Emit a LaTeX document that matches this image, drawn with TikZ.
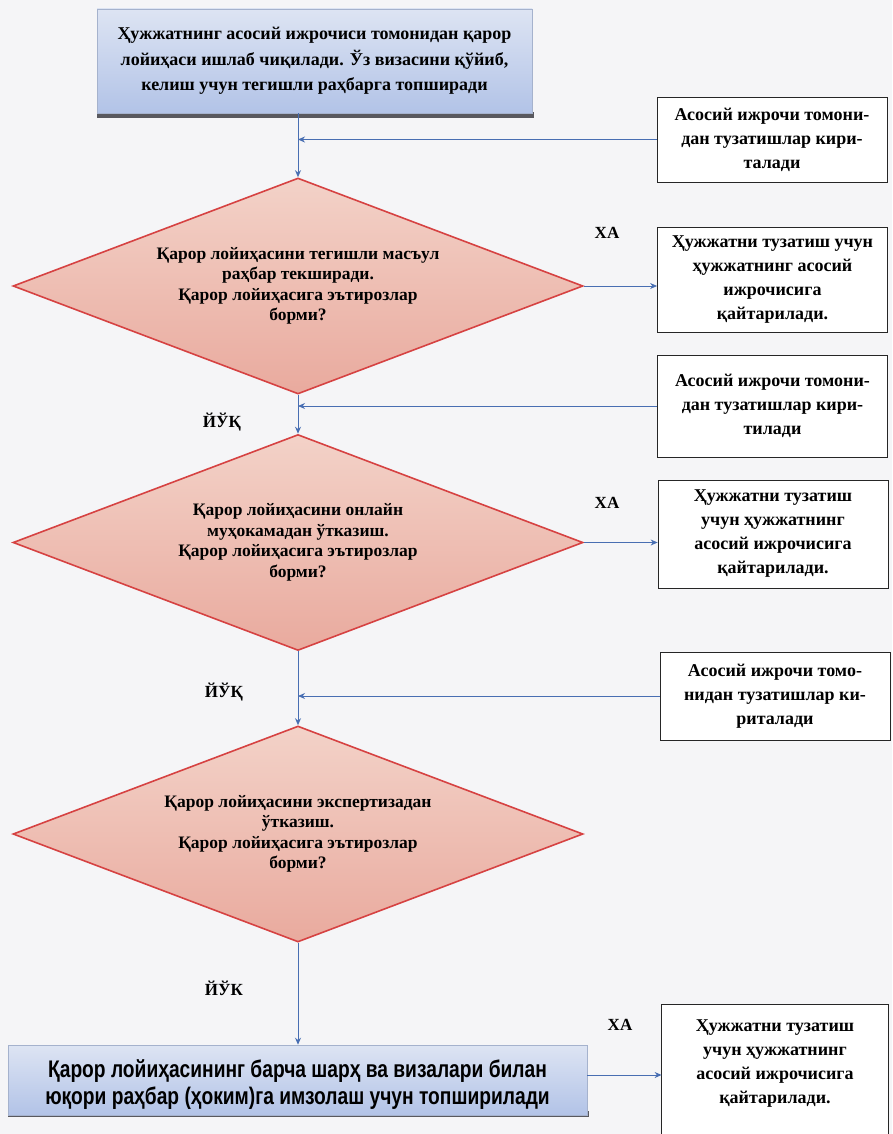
\documentclass[tikz,border=0pt]{standalone}
\usepackage{fontspec}
\setmainfont{Liberation Serif}
\newfontfamily\narrowsans[FakeStretch=0.8]{Liberation Sans}
\usetikzlibrary{shapes.geometric,arrows.meta}
\definecolor{pagebg}{RGB}{245,245,247}
\definecolor{linkblue}{RGB}{72,110,178}
\definecolor{blueA}{RGB}{221,228,243}
\definecolor{blueB}{RGB}{178,195,231}
\definecolor{blueedge}{RGB}{165,178,205}
\definecolor{shadowgray}{RGB}{88,88,94}
\definecolor{pinkA}{RGB}{243,210,200}
\definecolor{pinkB}{RGB}{233,170,158}
\definecolor{dred}{RGB}{214,66,66}
\begin{document}
\begin{tikzpicture}[x=1pt,y=-1pt,
  bluebox/.style={draw=blueedge, line width=0.6pt, top color=blueA, bottom color=blueB,
    inner sep=0pt, align=center},
  decision/.style={shape=diamond, draw=dred, line width=1.6pt, top color=pinkA, bottom color=pinkB,
    inner sep=0pt, aspect=2.6, minimum width=570pt, minimum height=216pt, align=center,
    font=\bfseries\fontsize{17.5}{20.5}\selectfont},
  sidebox/.style={draw=black!85, line width=0.8pt, fill=white, align=center, inner sep=0pt,
    minimum width=230pt, font=\bfseries\fontsize{18}{24}\selectfont},
  sideline/.style={draw=black!85, line width=0.8pt},
  lab/.style={font=\bfseries\fontsize{17}{17}\selectfont, inner sep=0pt},
  flow/.style={draw=linkblue, line width=0.9pt, -{Stealth[length=7pt,width=6pt]}},
]
\fill[pagebg] (0,0) rectangle (892,1134);
\useasboundingbox (0,0) rectangle (892,1134);

% top box
\fill[shadowgray] (97,112) rectangle (534,118);
\node[bluebox, minimum width=435pt, minimum height=104pt,
  font=\bfseries\fontsize{18}{25.5}\selectfont] (top) at (314.5,61)
  {Ҳужжатнинг асосий ижрочиси томонидан қарор\\лойиҳаси ишлаб чиқилади. Ўз визасини қўйиб,\\келиш учун тегишли раҳбарга топширади};

% decisions
\node[decision] (d1) at (298,286)
  {Қарор лойиҳасини тегишли масъул\\раҳбар текширади.\\Қарор лойиҳасига эътирозлар\\борми?};
\node[decision] (d2) at (298,542.5)
  {Қарор лойиҳасини онлайн\\муҳокамадан ўтказиш.\\Қарор лойиҳасига эътирозлар\\борми?};
\node[decision] (d3) at (298,834)
  {Қарор лойиҳасини экспертизадан\\ўтказиш.\\Қарор лойиҳасига эътирозлар\\борми?};

% bottom box
\fill[shadowgray] (8,1111) rectangle (589,1117);
\node[bluebox, minimum width=579pt, minimum height=70pt,
  font=\narrowsans\bfseries\fontsize{24}{27}\selectfont] (bot) at (297.5,1080)
  {\rule{0pt}{26pt}Қарор лойиҳасининг барча шарҳ ва визалари билан\\юқори раҳбар (ҳоким)га имзолаш учун топширилади};

% side boxes
\node[sidebox, minimum height=85pt] (r1) at (772,139.5)
  {Асосий ижрочи томони-\\дан тузатишлар кири-\\талади};
\node[sidebox, minimum height=105pt] (r2) at (772.5,279.5)
  {Ҳужжатни тузатиш учун\\ҳужжатнинг асосий\\ижрочисига\\қайтарилади.};
\node[sidebox, minimum height=102pt] (r3) at (772.5,406)
  {Асосий ижрочи томони-\\дан тузатишлар кири-\\тилади};
\node[sidebox, minimum height=108pt] (r4) at (773,534)
  {Ҳужжатни тузатиш\\учун ҳужжатнинг\\асосий ижрочисига\\қайтарилади.};
\node[sidebox, minimum height=88pt] (r5) at (775,696)
  {Асосий ижрочи томо-\\нидан тузатишлар ки-\\риталади};
\fill[white] (662,1005) rectangle (888,1140);
\node[sidebox, draw=none, fill=none, minimum width=226pt, minimum height=117pt] (r6) at (775,1063.5)
  {Ҳужжатни тузатиш\\учун ҳужжатнинг\\асосий ижрочисига\\қайтарилади.};
\draw[sideline] ([yshift=-30pt]r6.south west) -- (r6.north west) -- (r6.north east) -- ([yshift=-30pt]r6.south east);

% labels
\node[lab] (ha1) at (607,233) {ХА};
\node[lab] (ha2) at (607,503) {ХА};
\node[lab] (ha3) at (620,1025) {ХА};
\node[lab] (no1) at (222,422) {ЙЎҚ};
\node[lab] (no2) at (224,692) {ЙЎҚ};
\node[lab] (no3) at (224,988) {ЙЎК};

% main flow
\draw[flow] (d1.north |- top.south) -- (d1.north);
\draw[flow] (d1.south) -- (d2.north);
\draw[flow] (d2.south) -- (d3.north);
\draw[flow] (d3.south) -- (d3.south |- bot.north);

% corrections back to axis
\draw[flow] (r1.west) -- (r1.west -| d1.north);
\draw[flow] (r3.west) -- (r3.west -| d1.north);
\draw[flow] (r5.west) -- (r5.west -| d1.north);

% yes branches
\draw[flow] (d1.east) -- (d1.east -| r2.west);
\draw[flow] (d2.east) -- (d2.east -| r4.west);
\draw[flow] ([yshift=5pt]bot.east) -- ([yshift=5pt]bot.east -| r6.west);
\end{tikzpicture}
\end{document}
